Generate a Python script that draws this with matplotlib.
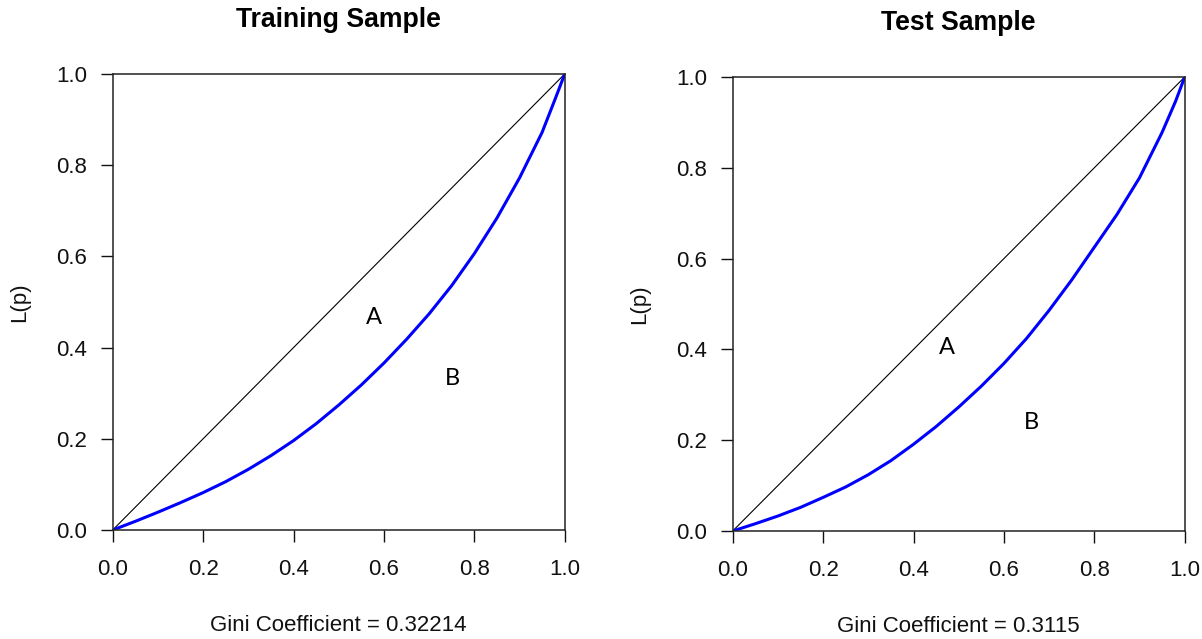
import matplotlib.pyplot as plt

# Lorenz curve points
p_grid = [0, 0.05, 0.1, 0.15, 0.2, 0.25, 0.3, 0.35, 0.4, 0.45, 0.5,
          0.55, 0.6, 0.65, 0.7, 0.75, 0.8, 0.85, 0.9, 0.95, 0.98, 1.0]
train_L = [0, 0.019, 0.039, 0.060, 0.082, 0.106, 0.133, 0.163, 0.196, 0.233, 0.274,
           0.318, 0.366, 0.418, 0.474, 0.536, 0.606, 0.684, 0.772, 0.872, 0.948, 1.0]
test_L = [0, 0.016, 0.033, 0.052, 0.074, 0.097, 0.124, 0.155, 0.191, 0.230, 0.273,
          0.319, 0.369, 0.424, 0.486, 0.553, 0.625, 0.697, 0.778, 0.878, 0.947, 1.0]

titles = ['Training Sample', 'Test Sample']
gini = ['0.32214', '0.3115']
ticks = [0.0, 0.2, 0.4, 0.6, 0.8, 1.0]
tick_labels = ['0.0', '0.2', '0.4', '0.6', '0.8', '1.0']

# positions of the A / B labels (data coords)
label_A = [(0.579, 0.465), (0.474, 0.405)]
label_B = [(0.752, 0.333), (0.662, 0.238)]

plt.rcParams['font.family'] = ['Liberation Sans', 'DejaVu Sans']

fig = plt.figure(figsize=(12.02, 6.39), dpi=100)
ax1 = fig.add_axes([112.7 / 1202, 1 - 530 / 639, 452 / 1202, 456 / 639])
ax2 = fig.add_axes([732.7 / 1202, 1 - 531 / 639, 452 / 1202, 454 / 639])

for i, (ax, L) in enumerate(zip([ax1, ax2], [train_L, test_L])):
    ax.plot([0, 1], [0, 1], color='black', lw=0.8)
    ax.plot(p_grid, L, color='#0000ff', lw=2.2,
            solid_capstyle='round', solid_joinstyle='round')
    ax.set_xlim(0, 1)
    ax.set_ylim(0, 1)
    ax.set_xticks(ticks)
    ax.set_xticklabels(tick_labels)
    ax.set_yticks(ticks)
    ax.set_yticklabels(tick_labels)
    ax.tick_params(axis='both', direction='out', length=8.6, width=1.0,
                   labelsize=16, colors='#111111')
    ax.tick_params(axis='x', pad=12)
    ax.tick_params(axis='y', pad=10)
    for s in ax.spines.values():
        s.set_linewidth(1.1)
        s.set_color('#222222')

    ax.text(0.5, 1 + 54 / 456, titles[i], transform=ax.transAxes,
            ha='center', va='center', fontsize=19.2, fontweight='bold')
    ax.set_xlabel('Gini Coefficient = ' + gini[i], fontsize=16, color='#111111')
    ax.xaxis.set_label_coords(0.5, -0.21)
    ax.xaxis.label.set_va('center')
    ax.set_ylabel('L(p)', fontsize=16, color='#111111')
    ax.yaxis.set_label_coords(-0.205, 0.5)
    ax.yaxis.label.set_va('center')

    ax.text(*label_A[i], 'A', fontsize=17, family=['Lato', 'DejaVu Sans'],
            ha='center', va='center')
    ax.text(*label_B[i], 'B', fontsize=17, family=['Lato', 'DejaVu Sans'],
            ha='center', va='center')

fig.savefig('out.png', dpi=100)
